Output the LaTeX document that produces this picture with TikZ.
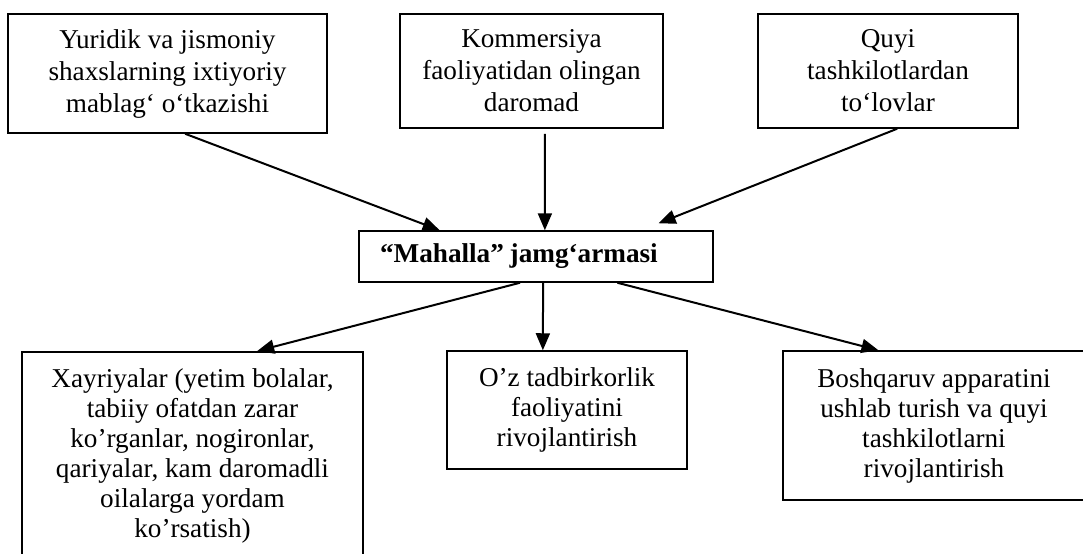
\documentclass[tikz,border=0pt]{standalone}
\usepackage{fontspec}
\setmainfont{Liberation Serif}
\usetikzlibrary{calc,arrows.meta}
\tikzset{
  box/.style={draw=black, line width=0.75pt, align=center, font=\fontsize{13.6}{15}\selectfont},
  topbox/.style={box, font=\fontsize{13.6}{16}\selectfont},
  arr/.style={line width=1pt, -{Triangle[length=8.5pt,width=7pt]}}
}
\def\boxnode{\node[box]}
\def\drawarr{\draw[arr]}

\begin{document}
\begin{tikzpicture}[x=0.5pt,y=-0.5pt,inner sep=0pt]
\clip (0,0) rectangle (1083,553); % page frame, boxes at the border are cut

% -------- sources, top row ---------
\node[topbox, minimum width=159.5pt, minimum height=59.5pt] (yuridik) at (167.5,73.5) {Yuridik va jismoniy\\shaxslarning ixtiyoriy\\mablag‘ o‘tkazishi};
\node[topbox, minimum width=131.5pt, minimum height=57pt] (kommers) at (531.5,71) {Kommersiya\\faoliyatidan olingan\\daromad};
\node[topbox, minimum width=130pt, minimum height=57pt] (quyi) at (888,71) {Quyi\\tashkilotlardan\\to‘lovlar};

% -------- the fund ---------
\node[draw=black, line width=0.75pt, minimum height=25.5pt, text width=156pt, inner xsep=10.5pt, align=left,
  font=\bfseries\fontsize{13.6}{15}\selectfont] (fund) at (536,256.5) {“Mahalla”\hspace{-0.12em}\ jamg‘armasi};

% -------- uses, bottom row ---------
\boxnode[anchor=north, inner ysep=8.6pt, minimum width=170.5pt] (xayr) at (192.5,351) {Xayriyalar (yetim bolalar,\\tabiiy ofatdan zarar\\ko’rganlar, nogironlar,\\qariyalar, kam daromadli\\oilalarga yordam\\ko’rsatish)};
\boxnode[minimum width=120pt, minimum height=59pt] (tadbir) at (567,410) {O’z tadbirkorlik\\faoliyatini\\rivojlantirish};
\boxnode[minimum width=151pt, minimum height=74.5pt] (boshq) at (934,425.5) {Boshqaruv apparatini\\ushlab turish va quyi\\tashkilotlarni\\rivojlantirish};

% incoming arrows, end points taken along the box edges
\coordinate (y_out) at ($ (yuridik.south west)!0.555!(yuridik.south east) $);
\coordinate (k_out) at ($ (kommers.south west)!0.551!(kommers.south east) + (0,5) $); % small gap below the box
\coordinate (q_out) at ($ (quyi.south west)!0.535!(quyi.south east) $);
\coordinate (f_in1) at ($ (fund.north west)!0.229!(fund.north east) $);
\coordinate (f_in2) at ($ (fund.north west)!0.525!(fund.north east) $);
\coordinate (f_in3) at ($ (fund.north west)!0.845!(fund.north east) + (0,-7) $); % stops short of the box
\drawarr (y_out) -- (f_in1);
\drawarr (k_out) -- (f_in2);
\drawarr (q_out) -- (f_in3);

% outgoing arrows
\coordinate (f_out1) at ($ (fund.south west)!0.455!(fund.south east) $);
\coordinate (f_out2) at ($ (fund.south west)!0.52!(fund.south east) $);
\coordinate (f_out3) at ($ (fund.south west)!0.729!(fund.south east) $);
\coordinate (x_in) at ($ (xayr.north west)!0.689!(xayr.north east) $);
\coordinate (t_in) at ($ (tadbir.north west)!0.4!(tadbir.north east) $);
\coordinate (b_in) at ($ (boshq.north west)!0.317!(boshq.north east) $);
\drawarr (f_out1) -- (x_in);
\drawarr (f_out2) -- (t_in);
\drawarr (f_out3) -- (b_in);
\end{tikzpicture}
\end{document}
